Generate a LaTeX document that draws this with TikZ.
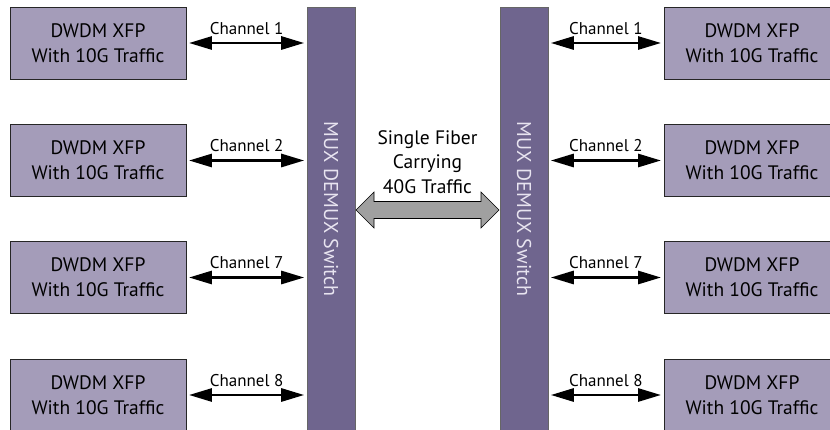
\documentclass[tikz,border=0pt]{standalone}
\usepackage{fontspec}
\setmainfont{PT Sans}
\usetikzlibrary{arrows.meta}
\definecolor{boxfill}{RGB}{164,156,185}
\definecolor{swfill}{RGB}{111,101,142}
\definecolor{swtext}{RGB}{232,228,240}
\definecolor{fibfill}{RGB}{160,160,160}
\tikzset{
  xfp/.style={draw=black!85, line width=0.9pt, fill=boxfill, minimum width=176pt, minimum height=72pt, inner sep=0pt, align=center, font=\fontsize{19.5pt}{25pt}\selectfont},
  switchbox/.style={draw=black!60, line width=0.6pt, fill=swfill, minimum width=48pt, minimum height=430pt, inner sep=0pt},
  swlabel/.style={text=swtext, rotate=-90, font=\fontsize{20pt}{22pt}\selectfont},
  chan/.style={{Triangle[length=23pt,width=13pt]}-{Triangle[length=23pt,width=13pt]}, line width=2.8pt, shorten <=2.5pt, shorten >=2.5pt},
  chlabel/.style={font=\fontsize{17pt}{19pt}\selectfont, above=4pt, midway},
  fiber/.style={draw=black, line width=0.6pt, fill=fibfill}
}
\begin{document}
\begin{tikzpicture}[x=1pt,y=-1pt]
\useasboundingbox (0,0) rectangle (830,430);
\begin{scope}
\clip (0,0) rectangle (830,430);
% switches
\node[switchbox, anchor=north] (SL) at (331,7) {};
\node[switchbox, anchor=north] (SR) at (524,7) {};
\node[swlabel] (SLt) at (331,209) {MUX DEMUX Switch};
\node[swlabel] (SRt) at (524,209) {MUX DEMUX Switch};
% left boxes
\node[xfp] (L1) at (98,43) {DWDM XFP\\With 10G Traffic};
\node[xfp] (L2) at (98,160.5) {DWDM XFP\\With 10G Traffic};
\node[xfp] (L3) at (98,277.5) {DWDM XFP\\With 10G Traffic};
\node[xfp] (L4) at (98,395) {DWDM XFP\\With 10G Traffic};
% right boxes
\node[xfp] (R1) at (752,43) {DWDM XFP\\With 10G Traffic};
\node[xfp] (R2) at (752,160.5) {DWDM XFP\\With 10G Traffic};
\node[xfp] (R3) at (752,277.5) {DWDM XFP\\With 10G Traffic};
\node[xfp] (R4) at (752,395) {DWDM XFP\\With 10G Traffic};
% channel arrows
\foreach \i/\c in {1/1,2/2,3/7,4/8}{
  \draw[chan] (L\i.east) -- (SL.west |- L\i.east) node[chlabel] {Channel \c};
  \draw[chan] (SR.east |- R\i.west) -- (R\i.west) node[chlabel] {Channel \c};
}
% fiber double arrow
\coordinate (fl) at (356,210);
\coordinate (fr) at (499,210);
\draw[fiber] (fl) -- (374,192) -- (374,201.5) -- (481,201.5) -- (481,192) -- (fr)
  -- (481,228) -- (481,218.5) -- (374,218.5) -- (374,228) -- cycle;
\node[align=center, font=\fontsize{19.5pt}{24.5pt}\selectfont] (fib) at (427.5,162) {Single Fiber\\Carrying\\40G Traffic};
\end{scope}
\end{tikzpicture}
\end{document}
